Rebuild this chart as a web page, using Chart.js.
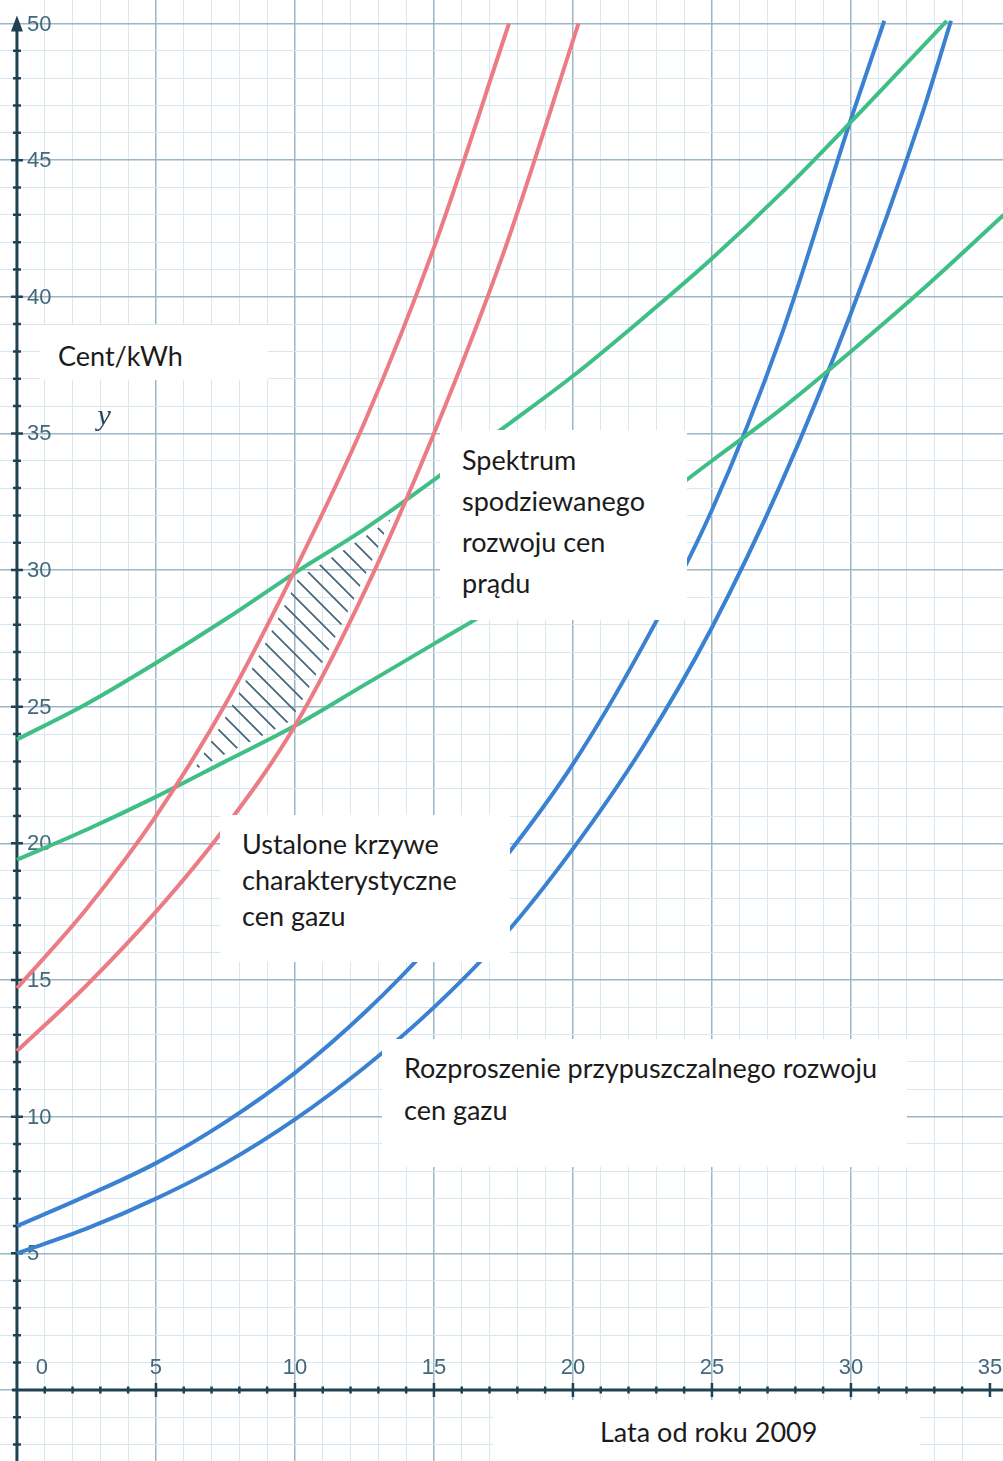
<!DOCTYPE html>
<html lang="pl">
<head>
<meta charset="utf-8">
<title>Ceny prądu i gazu</title>
<script src="https://cdn.jsdelivr.net/npm/chart.js@4.4.1/dist/chart.umd.min.js"></script>
<style>
    html, body { margin: 0; padding: 0; background: #fff; }
    #wrap { position: relative; width: 1003px; height: 1461px; overflow: hidden; }
    #chart { position: absolute; left: 0; top: 0; }
    .note {
        position: absolute;
        box-sizing: border-box;
        background: #fff;
        color: #1b1b1b;
        font-family: "Lato", "Open Sans", sans-serif;
        font-size: 27px;
        white-space: nowrap;
    }
</style>
</head>
<body>
<div id="wrap">
    <canvas id="chart" width="1003" height="1461"></canvas>

    <div class="note" style="left:40px;top:325px;width:228px;height:55px;padding:16px 0 0 18px;line-height:30px;">Cent/kWh</div>
    <div class="note" style="left:440px;top:430px;width:247px;height:190px;padding:9px 0 0 22px;line-height:41px;">Spektrum<br>spodziewanego<br>rozwoju cen<br>prądu</div>
    <div class="note" style="left:220px;top:815px;width:290px;height:147px;padding:11px 0 0 22px;line-height:36px;">Ustalone krzywe<br>charakterystyczne<br>cen gazu</div>
    <div class="note" style="left:382px;top:1039px;width:525px;height:128px;padding:8px 0 0 22px;line-height:42px;">Rozproszenie przypuszczalnego rozwoju<br>cen gazu</div>
    <div class="note" style="left:493px;top:1400px;width:427px;height:61px;padding:17px 0 0 107px;line-height:30px;">Lata od roku 2009</div>
</div>

<script>
// Dane (lata od 2009 -> cent/kWh)
const redUpperYears = [0, 2.5, 5, 7.5, 10, 12.5, 15, 17.7];
const redUpperPrice = [14.7, 17.6, 21.0, 25.1, 30.0, 35.4, 41.8, 50.0];
const redLowerYears = [0, 2.5, 5, 7.5, 10, 12.5, 15, 17.5, 20.2];
const redLowerPrice = [12.4, 14.8, 17.5, 20.6, 24.3, 29.2, 35.0, 41.6, 50.0];

const greenUpperYears = [0, 2.5, 5, 7.5, 10, 12.5, 15, 17.5, 20, 22.5, 25, 27.5, 30, 33.45];
const greenUpperPrice = [23.8, 25.1, 26.6, 28.2, 29.9, 31.5, 33.3, 35.2, 37.1, 39.2, 41.4, 43.8, 46.4, 50.1];
const greenLowerYears = [0, 2.5, 5, 7.5, 10, 12.5, 15, 17.5, 20, 22.5, 25, 27.5, 30, 32.5, 35.5];
const greenLowerPrice = [19.4, 20.5, 21.7, 23.0, 24.3, 25.8, 27.3, 28.8, 30.4, 32.1, 34.0, 35.9, 38.0, 40.2, 43.0];

const blueUpperYears = [0, 2.5, 5, 7.5, 10, 12.5, 15, 17.5, 20, 22.5, 25, 27.5, 30, 31.2];
const blueUpperPrice = [6.0, 7.1, 8.3, 9.8, 11.6, 13.8, 16.4, 19.4, 22.9, 27.2, 32.2, 38.6, 46.5, 50.1];
const blueLowerYears = [0, 2.5, 5, 7.5, 10, 12.5, 15, 17.5, 20, 22.5, 25, 27.5, 30, 32.5, 33.6];
const blueLowerPrice = [5.0, 5.9, 7.0, 8.3, 9.9, 11.8, 14.0, 16.6, 19.8, 23.5, 27.9, 33.2, 39.4, 46.5, 50.1];

// Opisy osi
const xTickLabels = [0, 5, 10, 15, 20, 25, 30, 35];
const yTickLabels = [5, 10, 15, 20, 25, 30, 35, 40, 45, 50];

const RED = '#ec7c84';
const GREEN = '#3fbf86';
const BLUE = '#3a81d2';
const AXIS = '#1f4252';
const LABEL = '#41697b';

function toPoints(xs, ys) {
    return xs.map((x, i) => ({ x: x, y: ys[i] }));
}

function isInt(v) {
    return Math.abs(v - Math.round(v)) < 1e-6;
}

// Ścieżka krzywej z punktami kontrolnymi Béziera, wyliczonymi przez Chart.js
function tracePath(ctx, pts, reverse) {
    const p = reverse ? pts.slice().reverse() : pts;
    if (!reverse) ctx.moveTo(p[0].x, p[0].y);
    else ctx.lineTo(p[0].x, p[0].y);
    for (let i = 1; i < p.length; i++) {
        const a = p[i - 1], b = p[i];
        if (!reverse) ctx.bezierCurveTo(a.cp2x, a.cp2y, b.cp1x, b.cp1y, b.x, b.y);
        else ctx.bezierCurveTo(a.cp1x, a.cp1y, b.cp2x, b.cp2y, b.x, b.y);
    }
}

function linePoints(chart, index) {
    const meta = chart.getDatasetMeta(index);
    meta.dataset.updateControlPoints(chart.chartArea, 'x');
    return meta.data;
}

function gridColor(c) {
    const v = c.tick.value;
    if (!isInt(v)) return 'rgba(0,0,0,0)';
    return Math.round(v) % 5 === 0 ? '#9db6c6' : '#d9e7f0';
}

const crossAxes = {
    id: 'crossAxes',
    beforeDatasetsDraw(chart) {
        const { ctx, chartArea, scales: { x, y } } = chart;
        const x0 = x.getPixelForValue(0);
        const y0 = y.getPixelForValue(0);

        // kreskowanie: część wspólna pasma prądu i pasma gazu
        const ru = linePoints(chart, 0), rl = linePoints(chart, 1);
        const gu = linePoints(chart, 2), gl = linePoints(chart, 3);
        const off = document.createElement('canvas');
        off.width = chart.width; off.height = chart.height;
        const o = off.getContext('2d');
        o.save();
        o.beginPath(); tracePath(o, ru, false); tracePath(o, rl, true); o.closePath(); o.clip();
        o.beginPath(); tracePath(o, gu, false); tracePath(o, gl, true); o.closePath(); o.clip();
        o.strokeStyle = '#48677a';
        o.lineWidth = 1.8;
        o.beginPath();
        const h = chartArea.bottom - chartArea.top;
        for (let k = -h; k < chartArea.right; k += 19) {
            o.moveTo(k, chartArea.top);
            o.lineTo(k + h, chartArea.bottom);
        }
        o.stroke();
        o.restore();
        o.globalCompositeOperation = 'destination-out';
        o.lineWidth = 13;
        [ru, rl, gu, gl].forEach(pts => { o.beginPath(); tracePath(o, pts, false); o.stroke(); });
        ctx.drawImage(off, 0, 0);

        ctx.save();
        // osie
        ctx.strokeStyle = AXIS;
        ctx.fillStyle = AXIS;
        ctx.lineWidth = 3;
        const yTop = y.getPixelForValue(50);
        ctx.beginPath();
        ctx.moveTo(x0, chartArea.bottom);
        ctx.lineTo(x0, yTop + 6);
        ctx.moveTo(x0 - 5, y0);
        ctx.lineTo(chartArea.right, y0);
        ctx.stroke();
        // grot strzałki
        ctx.beginPath();
        ctx.moveTo(x0, yTop - 8);
        ctx.lineTo(x0 - 6, yTop + 8);
        ctx.lineTo(x0 + 6, yTop + 8);
        ctx.closePath();
        ctx.fill();

        // kreski podziałki
        ctx.lineWidth = 2.5;
        ctx.beginPath();
        for (let v = Math.ceil(y.min); v <= 49; v++) {
            if (v === 0) continue;
            const py = y.getPixelForValue(v);
            const len = v % 5 === 0 ? 6 : 4;
            ctx.moveTo(x0 - len, py);
            ctx.lineTo(x0 + len, py);
        }
        for (let v = 1; v <= Math.floor(x.max); v++) {
            const px = x.getPixelForValue(v);
            const len = v % 5 === 0 ? 7 : 3.5;
            ctx.moveTo(px, y0 - len);
            ctx.lineTo(px, y0 + len);
        }
        ctx.stroke();

        // etykiety
        ctx.fillStyle = LABEL;
        ctx.font = '22px "Liberation Sans", Arial, sans-serif';
        ctx.textBaseline = 'middle';
        ctx.textAlign = 'left';
        yTickLabels.forEach(v => {
            ctx.fillText(String(v), x0 + 10, y.getPixelForValue(v) + 1);
        });
        ctx.textAlign = 'center';
        xTickLabels.forEach(v => {
            const px = v === 0 ? x0 + 25 : x.getPixelForValue(v);
            ctx.fillText(String(v), px, y0 - 22);
        });

        // symbol osi y
        ctx.fillStyle = '#2b4756';
        ctx.font = 'italic 30px "Liberation Serif", "DejaVu Serif", serif';
        ctx.textAlign = 'left';
        ctx.textBaseline = 'alphabetic';
        ctx.fillText('y', x.getPixelForValue(2.9), y.getPixelForValue(35.3));
        ctx.restore();
    }
};

function curve(label, xs, ys, color) {
    return {
        label: label,
        data: toPoints(xs, ys),
        borderColor: color,
        borderWidth: 4,
        pointRadius: 0,
        cubicInterpolationMode: 'monotone',
        fill: false
    };
}

const ctx = document.getElementById('chart').getContext('2d');
new Chart(ctx, {
    type: 'line',
    data: {
        datasets: [
            curve('Prąd - górna', redUpperYears, redUpperPrice, RED),
            curve('Prąd - dolna', redLowerYears, redLowerPrice, RED),
            curve('Gaz (krzywe charakterystyczne) - górna', greenUpperYears, greenUpperPrice, GREEN),
            curve('Gaz (krzywe charakterystyczne) - dolna', greenLowerYears, greenLowerPrice, GREEN),
            curve('Gaz (rozproszenie) - górna', blueUpperYears, blueUpperPrice, BLUE),
            curve('Gaz (rozproszenie) - dolna', blueLowerYears, blueLowerPrice, BLUE)
        ]
    },
    options: {
        responsive: false,
        animation: false,
        layout: { padding: 0 },
        plugins: {
            legend: { display: false },
            tooltip: { enabled: false }
        },
        scales: {
            x: {
                type: 'linear',
                min: -0.61,
                max: 35.47,
                border: { display: false },
                ticks: { display: false, stepSize: 1 },
                grid: {
                    drawTicks: false,
                    color: gridColor,
                    lineWidth: c => Math.round(c.tick.value) % 5 === 0 ? 1.5 : 1
                }
            },
            y: {
                type: 'linear',
                min: -2.6,
                max: 50.86,
                border: { display: false },
                ticks: { display: false, stepSize: 1 },
                grid: {
                    drawTicks: false,
                    color: gridColor,
                    lineWidth: c => Math.round(c.tick.value) % 5 === 0 ? 1.5 : 1
                }
            }
        }
    },
    plugins: [crossAxes]
});
</script>
</body>
</html>
